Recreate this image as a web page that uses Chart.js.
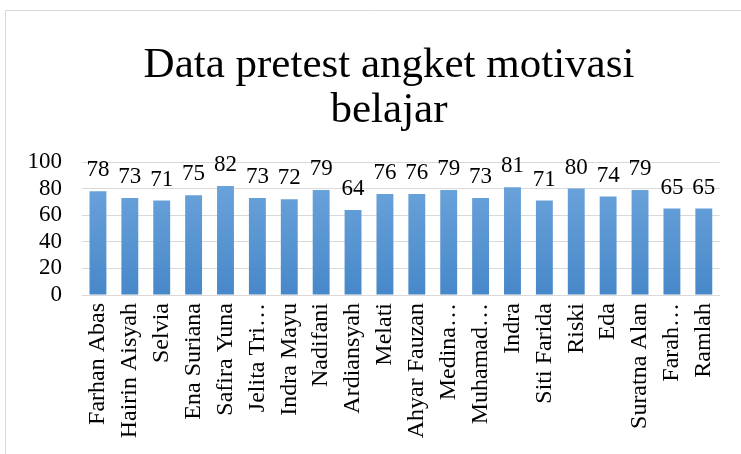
<!DOCTYPE html>
<html>
<head>
<meta charset="utf-8">
<script src="https://cdn.jsdelivr.net/npm/chart.js@4"></script>
<style>
html,body{margin:0;padding:0;background:#fff;}
#wrap{position:relative;width:741px;height:454px;}
</style>
</head>
<body>
<div id="wrap"><canvas id="c" width="741" height="454"></canvas></div>
<script>
const titleLines = ['Data pretest angket motivasi', 'belajar'];
const categories = ['Farhan Abas','Hairin Aisyah','Selvia','Ena Suriana','Safira Yuna','Jelita Tri…','Indra Mayu','Nadifani','Ardiansyah','Melati','Ahyar Fauzan','Medina…','Muhamad…','Indra','Siti Farida','Riski','Eda','Suratna Alan','Farah…','Ramlah'];
const scores = [78,73,71,75,82,73,72,79,64,76,76,79,73,81,71,80,74,79,65,65];
const yTicks = [0,20,40,60,80,100];

const SERIF = '"Liberation Serif","Times New Roman",serif';

const framePlugin = {
  id: 'frame',
  beforeDraw(chart) {
    const ctx = chart.ctx;
    ctx.save();
    ctx.fillStyle = '#fff';
    ctx.fillRect(0, 0, chart.width, chart.height);
    ctx.strokeStyle = '#d9d9d9';
    ctx.lineWidth = 1;
    ctx.beginPath();
    ctx.moveTo(5.5, chart.height);
    ctx.lineTo(5.5, 10.5);
    ctx.lineTo(chart.width, 10.5);
    ctx.stroke();
    ctx.restore();
  }
};

// Title drawn centred over the original (wider) chart frame
const titlePlugin = {
  id: 'frameTitle',
  afterDraw(chart) {
    const ctx = chart.ctx;
    ctx.save();
    ctx.font = '43px ' + SERIF;
    ctx.fillStyle = '#000';
    ctx.textAlign = 'center';
    ctx.textBaseline = 'alphabetic';
    titleLines.forEach((line, i) => ctx.fillText(line, 389, 77 + i * 45));
    ctx.restore();
  }
};

const labelPlugin = {
  id: 'valueLabels',
  afterDatasetsDraw(chart) {
    const ctx = chart.ctx;
    const meta = chart.getDatasetMeta(0);
    ctx.save();
    ctx.font = '23px ' + SERIF;
    ctx.fillStyle = '#000';
    ctx.textAlign = 'center';
    ctx.textBaseline = 'alphabetic';
    meta.data.forEach((bar, i) => {
      ctx.fillText(String(chart.data.datasets[0].data[i]), bar.x, bar.y - 15);
    });
    ctx.restore();
  }
};

function barGradient(context) {
  const chart = context.chart;
  const area = chart.chartArea;
  if (!area) return '#5b9bd5';
  const g = chart.ctx.createLinearGradient(0, area.top, 0, area.bottom);
  g.addColorStop(0, '#72a8de');
  g.addColorStop(1, '#4788c9');
  return g;
}

new Chart(document.getElementById('c'), {
  type: 'bar',
  data: {
    labels: categories,
    datasets: [{
      data: scores,
      backgroundColor: barGradient,
      borderWidth: 0,
      categoryPercentage: 1.0,
      barPercentage: 0.53
    }]
  },
  options: {
    responsive: false,
    animation: false,
    layout: { padding: { left: 0, right: 16, top: 162, bottom: 0 } },
    plugins: {
      legend: { display: false },
      tooltip: { enabled: false },
      title: { display: false }
    },
    scales: {
      x: {
        grid: { display: false, drawTicks: false },
        border: { display: true, color: '#d9d9d9', width: 1 },
        ticks: {
          color: '#000',
          font: { family: SERIF, size: 24 },
          minRotation: 90,
          maxRotation: 90,
          autoSkip: false,
          padding: 8
        },
        afterFit(scale) { scale.height = 159; }
      },
      y: {
        min: 0,
        max: 100,
        afterBuildTicks(scale) { scale.ticks = yTicks.map(v => ({ value: v })); },
        grid: { color: '#d9d9d9', lineWidth: 1, drawTicks: false },
        border: { display: false },
        ticks: {
          color: '#000',
          font: { family: SERIF, size: 23 },
          padding: 20,
          autoSkip: false
        },
        afterFit(scale) { scale.width = 82; }
      }
    }
  },
  plugins: [framePlugin, labelPlugin, titlePlugin]
});
</script>
</body>
</html>
